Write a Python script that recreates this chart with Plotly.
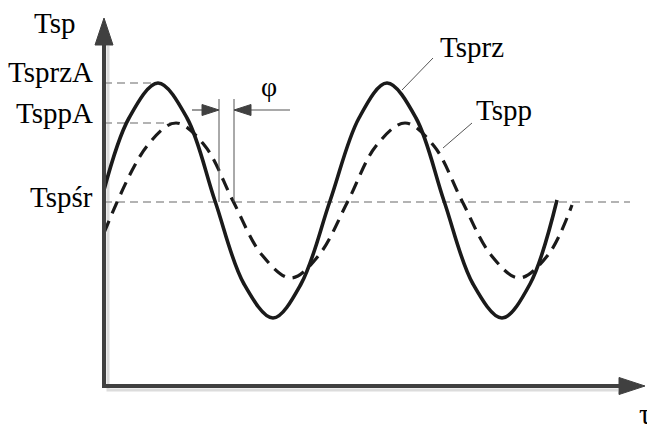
import plotly.graph_objects as go

# ---- data (arbitrary units, origin at axes corner) ----
tau_sprz = [0, 25, 54, 83, 111, 140, 169, 197, 226, 255, 283, 312, 340, 369, 398, 426, 453]
T_sprz = [196, 268, 303, 268, 185, 102, 68, 102, 185, 268, 303, 268, 185, 102, 68, 102, 186]

tau_spp = [0, 43, 72, 101, 129, 158, 187, 215, 244, 272, 301, 330, 358, 387, 415, 444, 468]
T_spp = [153, 240, 263, 240, 185, 131, 108, 131, 185, 240, 263, 240, 185, 131, 108, 131, 181]

level_names = ["TsprzA", "TsppA", "Tspśr"]
level_values = [303, 263, 184]
level_ends = [54, 74, 526]

phi_marks = [115, 130]          # mean crossings of both curves
phi_top = 287
phi_arrow_y = 276

FONT = "Liberation Serif"
FS = 29
AX = "#404040"
GRAY = "#9a9a9a"

fig = go.Figure()

# reference levels (gray dashed)
for name, v, e in zip(level_names, level_values, level_ends):
    fig.add_trace(go.Scatter(x=[0, e], y=[v, v], mode="lines",
                             line=dict(color=GRAY, width=1.5, dash="8px,5px"),
                             hoverinfo="skip", showlegend=False))

# curves
fig.add_trace(go.Scatter(x=tau_spp, y=T_spp, mode="lines", name="Tspp",
                         line=dict(color="#1a1a1a", width=3.2, dash="13px,8px",
                                   shape="spline", smoothing=1.0),
                         showlegend=False))
fig.add_trace(go.Scatter(x=tau_sprz, y=T_sprz, mode="lines", name="Tsprz",
                         line=dict(color="#1a1a1a", width=3.6, shape="spline", smoothing=1.0),
                         showlegend=False))

shapes = []
# axes shadow + axes
shapes.append(dict(type="path", path="M 4 340 L 4 -4 L 514 -4",
                   line=dict(color="#dcdcdc", width=3), layer="below"))
shapes.append(dict(type="path", path="M 0 343 L 0 0 L 516 0",
                   line=dict(color=AX, width=4)))
shapes.append(dict(type="path", path="M 0 368 L -9 341 L 9 341 Z",
                   fillcolor=AX, line=dict(color=AX, width=1)))
shapes.append(dict(type="path", path="M 541 0 L 515 -8.5 L 515 8.5 Z",
                   fillcolor=AX, line=dict(color=AX, width=1)))

# phi marks
for xm in phi_marks:
    shapes.append(dict(type="line", x0=xm, x1=xm, y0=level_values[2], y1=phi_top,
                       line=dict(color="#555555", width=1)))
shapes.append(dict(type="line", x0=88, x1=100, y0=phi_arrow_y, y1=phi_arrow_y,
                   line=dict(color="#555555", width=1.2)))
shapes.append(dict(type="path", path=f"M {phi_marks[0]} {phi_arrow_y} L 98 {phi_arrow_y+5.5} L 98 {phi_arrow_y-5.5} Z",
                   fillcolor=AX, line=dict(color=AX, width=1)))
shapes.append(dict(type="line", x0=145, x1=186, y0=phi_arrow_y, y1=phi_arrow_y,
                   line=dict(color="#555555", width=1.2)))
shapes.append(dict(type="path", path=f"M {phi_marks[1]} {phi_arrow_y} L 147 {phi_arrow_y+5.5} L 147 {phi_arrow_y-5.5} Z",
                   fillcolor=AX, line=dict(color=AX, width=1)))

# leader lines for curve labels
shapes.append(dict(type="line", x0=329, y0=328, x1=298, y1=296,
                   line=dict(color="#555555", width=1)))
shapes.append(dict(type="line", x0=368, y0=263, x1=339, y1=238,
                   line=dict(color="#555555", width=1)))

ann = []
def txt(x, y, s, xanchor="center", size=FS):
    ann.append(dict(x=x, y=y, text=s, showarrow=False, xanchor=xanchor, yanchor="middle",
                    font=dict(family=FONT, size=size, color="black")))

txt(-50, 363, "Tsp")
txt(-9, level_values[0] + 11, level_names[0], xanchor="right")
txt(-9, level_values[1] + 10, level_names[1], xanchor="right")
txt(-9, level_values[2] + 5, level_names[2], xanchor="right")
txt(368, 339, "Tsprz")
txt(400, 276, "Tspp")
txt(165, 300, "φ", size=28)
txt(541, -28, "τ")

# page body has an 8px margin: shift the drawing so it lands where the reference is
fig.update_layout(
    width=647, height=422,
    margin=dict(l=0, r=0, t=0, b=0),
    paper_bgcolor="white", plot_bgcolor="white",
    xaxis=dict(range=[-96, 551], visible=False, fixedrange=True),
    yaxis=dict(range=[-44, 378], visible=False, fixedrange=True),
    shapes=shapes, annotations=ann, showlegend=False,
)

fig.write_html("out.html")
